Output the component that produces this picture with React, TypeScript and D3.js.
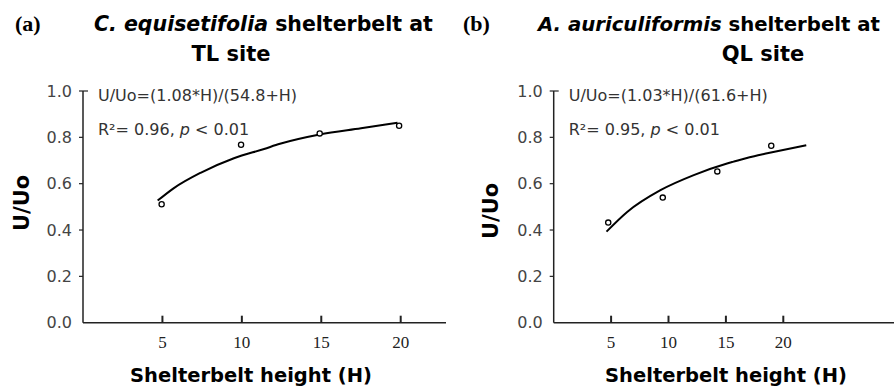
import React, { useRef, useEffect } from 'react';
import * as d3 from 'd3';

// panel (a): C. equisetifolia, TL site
const obsHA = [4.95, 9.95, 14.9, 19.9];
const obsUA = [0.511, 0.768, 0.817, 0.85];
const fitHA = [4.7, 5.7, 7.4, 9.5, 11.4, 12.4, 14.9, 17.5, 19.8];
const fitUA = [0.527, 0.58, 0.647, 0.71, 0.75, 0.772, 0.812, 0.839, 0.863];

// panel (b): A. auriculiformis, QL site
const obsHB = [4.75, 9.5, 14.25, 18.95];
const obsUB = [0.432, 0.54, 0.653, 0.764];
const fitHB = [4.6, 6.4, 9.3, 12.2, 15.1, 15.6, 17.8, 18.6, 22.0];
const fitUB = [0.393, 0.478, 0.572, 0.637, 0.687, 0.694, 0.723, 0.731, 0.766];

const xTicks = [5, 10, 15, 20];
const yTicks = [0, 0.2, 0.4, 0.6, 0.8, 1.0];

const W = 894;
const H = 389;
const SANS = 'DejaVu Sans, Verdana, sans-serif';

const Panel = ({ svgRef, opts }) => {
  useEffect(() => {
    const svg = d3.select(svgRef.current);
    const g = svg.append('g').attr('class', 'panel');
    const o = opts;

    const x = d3.scaleLinear().domain([0, 20]).range([o.x0, o.x20]);
    const y = d3.scaleLinear().domain([0, 1]).range([322.7, 91]);

    // title + panel letter
    g.append('text')
      .attr('x', o.letterX)
      .attr('y', 31)
      .attr('font-family', 'Liberation Serif, serif')
      .attr('font-weight', 'bold')
      .attr('font-size', 22)
      .text(o.letter);

    const t1 = g
      .append('text')
      .attr('x', o.titleX)
      .attr('y', 31)
      .attr('font-family', SANS)
      .attr('font-weight', 'bold')
      .attr('font-size', o.titleSize);
    t1.append('tspan').attr('font-style', 'italic').text(o.species);
    t1.append('tspan').text(' shelterbelt at');

    g.append('text')
      .attr('x', o.title2X)
      .attr('y', 61)
      .attr('text-anchor', 'middle')
      .attr('font-family', SANS)
      .attr('font-weight', 'bold')
      .attr('font-size', 21)
      .text(o.site);

    // axes
    g.append('line')
      .attr('x1', x(0))
      .attr('x2', x(0))
      .attr('y1', y(0))
      .attr('y2', y(1))
      .attr('stroke', '#222')
      .attr('stroke-width', 1.5);
    g.append('line')
      .attr('x1', x(0))
      .attr('x2', o.axisEnd)
      .attr('y1', y(0))
      .attr('y2', y(0))
      .attr('stroke', '#222')
      .attr('stroke-width', 1.5);

    g.selectAll('.ytick')
      .data(yTicks.filter(d => d > 0))
      .join('line')
      .attr('class', 'ytick')
      .attr('x1', d => x(0) - 4)
      .attr('x2', d => (d === 1 ? x(0) + 5 : x(0)))
      .attr('y1', d => y(d))
      .attr('y2', d => y(d))
      .attr('stroke', '#222')
      .attr('stroke-width', 1.2);

    g.selectAll('.ylab')
      .data(yTicks)
      .join('text')
      .attr('class', 'ylab')
      .attr('x', x(0) - 11)
      .attr('y', d => y(d))
      .attr('dy', '0.36em')
      .attr('text-anchor', 'end')
      .attr('font-family', SANS)
      .attr('font-size', 16)
      .attr('fill', '#444')
      .text(d3.format('.1f'));

    g.selectAll('.xtick')
      .data(xTicks)
      .join('line')
      .attr('class', 'xtick')
      .attr('x1', d => x(d))
      .attr('x2', d => x(d))
      .attr('y1', y(0))
      .attr('y2', y(0) - 7)
      .attr('stroke', '#222')
      .attr('stroke-width', 2);

    g.selectAll('.xlab')
      .data(xTicks)
      .join('text')
      .attr('class', 'xlab')
      .attr('x', d => x(d))
      .attr('y', 348)
      .attr('text-anchor', 'middle')
      .attr('font-family', 'Liberation Serif, serif')
      .attr('font-size', 17)
      .attr('fill', '#222')
      .text(d => d);

    g.append('text')
      .attr('x', o.xTitleX)
      .attr('y', 382)
      .attr('text-anchor', 'middle')
      .attr('font-family', SANS)
      .attr('font-weight', 'bold')
      .attr('font-size', 19.5)
      .text('Shelterbelt height (H)');

    g.append('text')
      .attr('transform', `translate(${o.yTitleX},${o.yTitleY}) rotate(-90)`)
      .attr('text-anchor', 'middle')
      .attr('dy', '0.36em')
      .attr('font-family', SANS)
      .attr('font-weight', 'bold')
      .attr('font-size', 21)
      .text('U/Uo');

    // equation + stats
    g.append('text')
      .attr('x', x(0) + 15)
      .attr('y', 101)
      .attr('font-family', SANS)
      .attr('font-size', 16)
      .attr('fill', '#333')
      .text(o.equation);
    const st = g
      .append('text')
      .attr('x', x(0) + 15)
      .attr('y', 135)
      .attr('font-family', SANS)
      .attr('font-size', 16)
      .attr('fill', '#333');
    st.append('tspan').text(`R\u00b2= ${o.r2}, `);
    st.append('tspan').attr('font-style', 'italic').text('p');
    st.append('tspan').text(' < 0.01');

    // fitted curve
    const lineGen = d3
      .line()
      .x((d, i) => x(o.fitH[i]))
      .y(d => y(d))
      .curve(d3.curveMonotoneX);
    g.append('path')
      .datum(o.fitU)
      .attr('d', lineGen)
      .attr('fill', 'none')
      .attr('stroke', '#000')
      .attr('stroke-width', 2);

    // observations
    g.selectAll('.dot')
      .data(o.obsU)
      .join('circle')
      .attr('class', 'dot')
      .attr('cx', (d, i) => x(o.obsH[i]))
      .attr('cy', d => y(d))
      .attr('r', 2.6)
      .attr('fill', '#fff')
      .attr('stroke', '#000')
      .attr('stroke-width', 1.3);

    return () => {
      g.remove();
    };
  }, [svgRef, opts]);

  return null;
};

const panelA = {
  letter: '(a)',
  letterX: 15,
  species: 'C. equisetifolia',
  site: 'TL site',
  titleX: 94,
  titleSize: 20.5,
  title2X: 231,
  x0: 83,
  x20: 400.7,
  axisEnd: 446,
  xTitleX: 251,
  yTitleX: 21,
  yTitleY: 203,
  equation: 'U/Uo=(1.08*H)/(54.8+H)',
  r2: '0.96',
  obsH: obsHA,
  obsU: obsUA,
  fitH: fitHA,
  fitU: fitUA
};

const panelB = {
  letter: '(b)',
  letterX: 463,
  species: 'A. auriculiformis',
  site: 'QL site',
  titleX: 538,
  titleSize: 19.7,
  title2X: 763,
  x0: 553.7,
  x20: 783.3,
  axisEnd: 894,
  xTitleX: 726,
  yTitleX: 490,
  yTitleY: 211,
  equation: 'U/Uo=(1.03*H)/(61.6+H)',
  r2: '0.95',
  obsH: obsHB,
  obsU: obsUB,
  fitH: fitHB,
  fitU: fitUB
};

export default function App() {
  const svgRef = useRef(null);
  return (
    <div style={{ position: 'absolute', left: 0, top: 0 }}>
      <svg ref={svgRef} width={W} height={H} style={{ display: 'block', background: '#fff' }}>
        <Panel svgRef={svgRef} opts={panelA} />
        <Panel svgRef={svgRef} opts={panelB} />
      </svg>
    </div>
  );
}
